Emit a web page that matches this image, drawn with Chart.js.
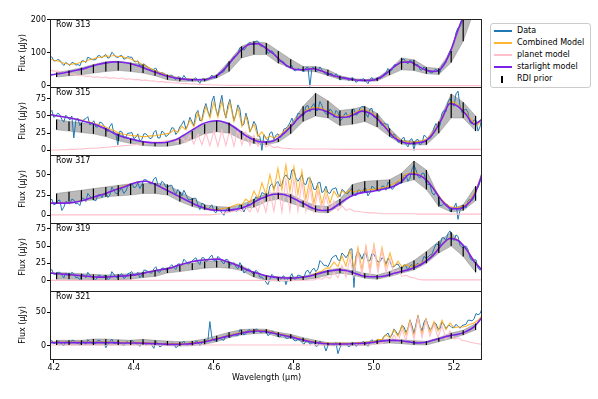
<!DOCTYPE html>
<html><head><meta charset="utf-8">
<script src="https://cdn.jsdelivr.net/npm/chart.js@4.4.0/dist/chart.umd.min.js"></script>
<style>
html,body{margin:0;padding:0;background:#fff;}
body{width:598px;height:399px;position:relative;overflow:hidden;font-family:"DejaVu Sans",sans-serif;}
canvas{position:absolute;left:0;}
.rowlab{position:absolute;left:56px;font-size:8px;line-height:8px;color:#000;white-space:nowrap;}
#legend{position:absolute;left:490px;top:23px;width:99px;height:63px;border:1px solid #cccccc;border-radius:3px;background:rgba(255,255,255,0.85);font-size:8px;color:#000;}
.li{position:absolute;left:0;width:99px;height:10px;}
.lh{position:absolute;left:3px;width:18px;height:2px;top:4px;}
.lt{position:absolute;left:26px;top:0;line-height:10px;white-space:nowrap;}
</style></head><body>
<div id="legend"></div>
<script>
// ---------- x grids ----------
const wave = [4.19,4.20,4.21,4.22,4.23,4.24,4.25,4.26,4.27,4.28,4.29,4.30,4.31,4.32,4.33,4.34,4.35,4.36,4.37,4.38,4.39,4.40,4.41,4.42,4.43,4.44,4.45,4.46,4.47,4.48,4.49,4.50,4.51,4.52,4.53,4.54,4.55,4.56,4.57,4.58,4.59,4.60,4.61,4.62,4.63,4.64,4.65,4.66,4.67,4.68,4.69,4.70,4.71,4.72,4.73,4.74,4.75,4.76,4.77,4.78,4.79,4.80,4.81,4.82,4.83,4.84,4.85,4.86,4.87,4.88,4.89,4.90,4.91,4.92,4.93,4.94,4.95,4.96,4.97,4.98,4.99,5.00,5.01,5.02,5.03,5.04,5.05,5.06,5.07,5.08,5.09,5.10,5.11,5.12,5.13,5.14,5.15,5.16,5.17,5.18,5.19,5.20,5.21,5.22,5.23,5.24,5.25,5.26,5.27];
const midWave = [4.195,4.205,4.215,4.225,4.235,4.245,4.255,4.265,4.275,4.285,4.295,4.305,4.315,4.325,4.335,4.345,4.355,4.365,4.375,4.385,4.395,4.405,4.415,4.425,4.435,4.445,4.455,4.465,4.475,4.485,4.495,4.505,4.515,4.525,4.535,4.545,4.555,4.565,4.575,4.585,4.595,4.605,4.615,4.625,4.635,4.645,4.655,4.665,4.675,4.685,4.695,4.705,4.715,4.725,4.735,4.745,4.755,4.765,4.775,4.785,4.795,4.805,4.815,4.825,4.835,4.845,4.855,4.865,4.875,4.885,4.895,4.905,4.915,4.925,4.935,4.945,4.955,4.965,4.975,4.985,4.995,5.005,5.015,5.025,5.035,5.045,5.055,5.065,5.075,5.085,5.095,5.105,5.115,5.125,5.135,5.145,5.155,5.165,5.175,5.185,5.195,5.205,5.215,5.225,5.235,5.245,5.255,5.265];
const starWave = [4.19,4.21,4.23,4.25,4.27,4.29,4.31,4.33,4.35,4.37,4.39,4.41,4.43,4.45,4.47,4.49,4.51,4.53,4.55,4.57,4.59,4.61,4.63,4.65,4.67,4.69,4.71,4.73,4.75,4.77,4.79,4.81,4.83,4.85,4.87,4.89,4.91,4.93,4.95,4.97,4.99,5.01,5.03,5.05,5.07,5.09,5.11,5.13,5.15,5.17,5.19,5.21,5.23,5.25,5.27];
const rdiWave = [4.207,4.238,4.269,4.299,4.330,4.361,4.392,4.423,4.453,4.484,4.515,4.546,4.577,4.607,4.638,4.669,4.700,4.731,4.761,4.792,4.823,4.854,4.885,4.915,4.946,4.977,5.008,5.039,5.069,5.100,5.131,5.162,5.193,5.223,5.254];
const xTicks = [4.2,4.4,4.6,4.8,5.0,5.2];

// ---------- Row 313 ----------
const yTicks313 = [0,100,200];
const data313 = [84,75,79,68,70,61,69,64,75,70, 83,78,90,84,94,86,95,85,91,82, 86,74,75,62,61,50,50,40,39,31, 31,24,27,20,22,17,20,15,20,17, 24,23,36,40,58,67,88,95,115,115, 131,124,134,118,116,100,98,80,75,58, 58,46,52,45,54,-2,55,45,47,35, 37,28,30,21,25,17,21,14,19,13, 19,15,25,26,40,44,62,63,78,71, 77,62,63,47,50,41,46,42,60,70, 105,130,175,195,235,255,295,315,355];
const dataMid313 = [87,75,77,61,66,70,62,60,75,86, 79,79,91,90,83,101,87,90,80,88, 86,72,60,66,56,46,53,34,37,30, 32,18,25,31,16,18,24,7,22,18, 32,24,40,42,68,78,88,115,107,127, 126,135,121,118,98,106,91,72,71,57, 61,45,49,42,56,54,43,57,39,31, 36,36,17,24,17,25,10,19,21,6, 25,19,21,36,52,47,64,68,81,66, 74,64,48,57,44,38,50,41,68,92, 115,160,178,216,250,271,314,329];
const comb313 = [80,77,75,70,67,64,66,68,72,74, 79,81,86,86,90,89,91,88,88,84, 82,76,72,65,60,52,48,41,38,32, 30,25,24,21,21,19,19,18,19,20, 22,26,32,42,55,70,84,98,110,119, 125,128,127,121,113,104,95,84,72,62, 55,50,48,48,49,51,51,48,44,38, 34,30,27,24,22,20,18,17,16,16, 16,17,21,28,36,46,57,65,71,74, 72,66,59,51,47,44,43,45,55,74, 100,135,168,200,230,260,290,320,350];
const planet313 = [48,44,44,39,39,35,35,31,32,28, 29,25,27,24,26,22,24,21,23,19, 21,18,19,16,17,14,15,12,13,10, 11,8,9,6,7,5,6,4,4,3, 3,2,2,1.5,1.5,1,1,1,1,1, 1,0.5,1,0.5,0.8,0.5,0.7,0.4,0.6,0.5, 0.6,0.4,0.5,0.5,0.6,0.4,0.5,0.5,0.4,0.5, 0.4,0.4,0.5,0.3,0.4,0.4,0.3,0.4,0.3,0.3, 0.3,0.3,0.3,0.3,0.3,0.3,0.3,0.3,0.3,0.3, 0.3,0.3,0.3,0.3,0.3,0.3,0.3,0.3,0.3,0.3, 0.3,0.3,0.3,0.3,0.3,0.3,0.3,0.3,0.3];
const star313 = [32,36,40,45,50,57,64,69,72,71,67,60,51,42,34,27,22,19,18,18,22,32,55,84,110,125,127,113,95,72,55,48,49,51,44,34,27,22,18,16,16,21,36,57,71,72,59,47,43,55,100,168,230,290,350];
const rdiLo313 = [26,30,33,38,43,46,43,38,30,18,13,13,13,23,43,84,94,94,68,54,44,42,30,19,15,13,14,32,48,46,36,34,70,134,240];
const rdiHi313 = [40,46,54,64,72,74,69,64,46,33,23,20,20,33,74,119,134,129,105,80,58,58,48,30,22,18,24,48,84,78,56,52,105,200,300];

// ---------- Row 315 ----------
const yTicks315 = [0,25,50,75];
const data315 = [55,48,54,45,51,44,18,47,40,46, 37,43,34,40,30,35,25,8,27,19, 25,17,24,16,24,17,26,18,28,20, 26,32,27,38,31,48,36,58,44,68, 49,79,50,80,47,74,43,66,36,54, 27,42,22,0,18,25,16,24,22,32, 40,38,54,50,64,56,68,58,65,53, 60,48,55,45,55,48,60,53,64,53, 60,48,51,36,38,22,24,12,17,9, 15,0,16,10,20,17,33,34,54,56, 75,64,86,55,60,40,44,28,50];
const dataMid315 = [58,50,52,41,48,50,43,36,45,49, 39,34,41,36,27,39,23,28,18,25, 26,19,13,24,21,18,29,18,26,22, 33,23,34,43,37,42,53,43,59,57, 71,60,67,58,65,59,52,60,38,44, 33,37,20,23,14,27,22,18,31,35, 47,43,53,51,65,64,58,71,57,52, 57,58,43,51,49,59,51,61,63,48, 61,49,40,40,38,18,20,12,19,5, 17,15,8,22,17,21,39,36,58,70, 68,82,65,58,55,39,44,34];
const comb315 = [52,51,50,49,48,47,46,45,44,42, 41,39,38,36,34,31,29,26,24,23, 22,21,21,20,20,21,21,22,23,24, 25,30,26,35,30,44,34,55,42,64, 47,70,48,71,48,70,42,62,35,50, 27,38,20,27,17,21,18,21,25,30, 35,41,48,53,58,61,62,62,61,58, 56,53,50,49,50,52,54,57,59,58, 56,52,47,41,34,27,21,17,14,13, 12,12,13,14,16,21,28,38,48,60, 70,70,66,60,54,47,40,37,47];
const planet315 = [0,0.5,0.5,1,1,1.5,1.5,2,2,2.5, 3,3,3.5,4,4.5,5,5.5,6,6.5,7, 7.5,8,9,9,10,11,12,12,13,14, 14,16,12,19,11,22,9,24,8,26, 7,28,6,29,7,30,6,30,8,27, 7,22,6,14,5,8,4,5,3,3, 2.5,2,2,2,2,2,2,2,2,2, 2,1.5,2,1.5,1.5,1.5,1.5,1.5,1.5,1.5, 1.5,1.5,1.5,1.5,1.5,1.5,1.5,1.5,1.5,1.5, 1.5,1.5,1.5,1.5,1.5,1.5,1.5,1.5,1.5,1.5, 1.5,1.5,1.5,1.5,1.5,1.5,1.5,1.5,1.5];
const star315 = [52,50,48,46,43,40,36,31,25,20,17,14,12,11,11,13,17,24,31,38,42,43,40,34,25,18,13,12,14,22,33,46,56,60,59,54,48,48,52,57,54,45,32,19,12,10,11,14,26,46,68,64,52,38,45];
const rdiLo315 = [30,28,26,24,20,14,10,7,6,6,9,16,24,27,25,16,10,8,12,24,42,50,47,36,38,42,34,20,9,8,8,25,47,47,28];
const rdiHi315 = [45,42,40,38,32,24,17,13,11,12,17,28,38,43,40,28,18,13,17,38,64,83,72,58,60,64,54,32,15,13,15,42,82,70,50];

// ---------- Row 317 ----------
const yTicks317 = [0,25,50];
const data317 = [17,13,18,6,17,14,19,15,21,17, 24,19,25,22,28,25,31,27,33,30, 37,34,40,38,44,39,45,38,42,35, 37,30,32,24,26,19,21,13,15,8, 10,5,8,3,7,4,8,6,9,10, 13,18,20,28,25,36,33,42,38,50, 44,56,42,50,38,46,32,40,28,36, 27,33,26,32,27,31,26,31,27,33, 28,34,30,36,31,38,34,42,40,50, 46,62,48,52,40,38,25,24,12,14, 5,10,-5,12,9,20,22,34,55];
const dataMid317 = [20,14,19,10,16,20,14,12,21,27, 21,18,26,26,22,35,27,31,27,36, 40,35,33,44,42,39,47,36,40,35, 37,26,29,31,20,20,21,7,14,7, 13,3,7,0,9,6,5,14,4,14, 14,23,21,27,24,39,39,36,47,46, 56,46,46,39,46,40,32,41,30,28, 32,34,23,30,27,33,24,31,33,24, 36,32,30,36,41,32,39,39,49,42, 57,56,46,52,38,28,29,12,15,13, 6,15,6,11,18,18,34,41];
const comb317 = [15,15,15,15,15,15,16,17,18,19, 21,22,24,26,27,29,31,33,35,37, 38,40,41,42,42,41,39,37,34,32, 29,27,24,22,19,17,14,12,10,9, 8,7,7,8,9,10,12,14,13,20, 16,30,21,40,26,50,30,58,31,62, 30,60,26,55,20,46,15,38,14,32, 15,30,22,30,27,31,29,30,31,31, 32,32,33,34,35,37,39,42,46,51, 52,53,51,48,45,39,33,26,19,14, 11,9.5,9.5,11,13.5,19,27,38,51];
const planet317 = [0.5,0.5,0.5,0.5,0.5,0.5,0.5,0.5,0.5,0.5, 0.5,0.5,0.5,0.5,0.5,0.5,0.5,0.5,0.5,0.5, 0.5,0.5,0.5,0.5,0.5,0.5,0.5,0.5,0.5,0.5, 0.5,0.5,0.5,0.5,0.5,0.5,0.5,0.5,0.5,0.5, 0.5,1,1.5,2,3,4,5,7,5,10, 4,15,4,22,4,30,5,38,4,44, 5,45,5,42,5,36,4,30,5,24, 5,18,6,12,6,8,5,5,4,3.5, 3,3,2.5,2,2,2,2,2,2,2, 2,2,1.5,1.5,1.5,1.5,1.5,1.5,1.5,1.5, 1.5,1.5,1.5,1.5,1.5,1.5,1.5,1.5,1.5];
const star317 = [15,15,15,16,18,21,24,27,31,34,38,41,42,39,34,29,24,19,14,10,7,6,6,7,9,13,19,23,26,26,23,18,13,8,6,7,13,20,25,28,29,31,33,36,42,51,50,44,32,18,9,8,12,24,50];
const rdiLo317 = [15,17,18,19,23,24,25,27,27,25,17,11,7,6,5,8,10,17,20,15,10,4,3,12,25,29,31,34,40,44,32,11,4,6,18];
const rdiHi317 = [27,29,31,33,35,37,39,39,40,38,29,21,13,11,10,13,20,27,28,26,18,12,11,20,38,42,43,44,52,67,56,23,8,13,36];

// ---------- Row 319 ----------
const yTicks319 = [0,25,50,75];
const data319 = [13,9,12,8,11,7,10,5,9,4, 8,3,7,4,8,3,9,4,10,5, 11,7,12,8,15,11,17,13,18,15, 20,19,24,22,28,25,31,27,33,28, 34,29,35,27,31,22,26,17,21,13, 16,9,12,5,-2,2,6,1,5,-6, 5,2,8,6,13,10,18,17,26,22, 26,35,30,40,33,45,-10,42,31,40, 29,38,27,33,24,28,20,24,17,21, 21,19,25,26,33,37,46,52,62,58, 72,58,64,48,50,33,30,18,20];
const dataMid319 = [16,9,12,4,9,12,4,1,8,12, 5,1,8,7,1,13,5,8,3,10, 13,8,4,15,13,11,20,12,18,17, 23,16,24,31,24,28,33,23,33,29, 37,28,32,24,30,24,20,26,11,17, 11,15,5,2,-6,9,5,-1,7,3, 10,2,7,4,15,15,13,29,22,20, 33,37,29,37,37,46,35,38,39,28, 39,32,27,31,32,20,23,19,23,15, 23,23,21,35,34,38,53,51,62,68, 63,66,51,49,45,29,30,15];
const comb319 = [11,10.5,10,9.5,9,8.5,8,7.5,7,6.5, 6,5.5,5,5,5,5.5,6,6,6.5,7, 7.5,8,9,10,11.5,13,14,15,16,17, 18,20,22,23.5,25,26.5,28,29,29.5,30, 30.5,31,31,29.5,28,26,24,21.5,19,16.5, 14,12,10.5,8.5,7,6,5,4.5,4,3.7, 3.5,3.7,4,4.7,5.5,6.7,9,12,14,18, 18,27,20,36,21,44,18,48,16,50, 16,52,18,48,20,40,20,28,20,23, 20,22,23,26,29,34,39,46,53,58, 62,61,59,53,47,38,29,22,16];
const planet319 = [0.3,0.3,0.3,0.3,0.3,0.3,0.3,0.3,0.3,0.3, 0.3,0.3,0.3,0.3,0.3,0.3,0.3,0.3,0.3,0.3, 0.3,0.3,0.3,0.3,0.3,0.3,0.3,0.3,0.3,0.3, 0.3,0.3,0.3,0.3,0.3,0.3,0.3,0.3,0.3,0.3, 0.3,0.3,0.3,0.3,0.3,0.3,0.3,0.3,0.3,0.3, 0.3,0.3,0.3,0.3,0.3,0.3,0.3,0.3,0.3,0.3, 0.3,0.3,0.5,0.5,0.5,0.8,1,3,2,6, 3,12,4,22,5,32,6,42,8,48, 10,50,12,44,12,32,9,15,6,8, 5,4,2,1,1,1,1,1,1,1, 1,1,1,1,1,1,1,1,1];
const star319 = [11,10,9,8,7,6,5,5,6,6.5,7.5,9,11.5,14,16,18,22,25,28,29.5,30.5,31,28,24,19,14,10.5,7,5,4,3.5,4,5.5,8,11.5,14,15.5,14.5,11,7,5.5,5.5,7,10.5,13.5,16.5,21,28,38,52,61,58,46,28,15];
const rdiLo319 = [2,2,1.5,1,0,1,2,4.4,6,11,13,15.5,18,19,18,14.5,5,0,-0.5,-0.5,1,3.5,8,10.7,8.3,3.5,2,6,10.7,15.5,25,40,50,35,12];
const rdiHi319 = [11.6,11,10,9,8,9,10,12,15,18.4,22,25,27.6,28.6,27,22,12,7,5,5,6,10.7,15.5,18,14.5,10.7,8,13,20,29,42,57,70,49,27];

// ---------- Row 321 ----------
const yTicks321 = [0,50];
const data321 = [5,3,7,2,6,3,8,4,7,2, 6,3,8,4,-3,6,3,7,2,5, 3,6,2,5,1,4,-4,3,0,4, 1,3,-1,4,1,5,2,6,4,8, 36,8,12,9,15,12,18,15,22,18, 24,19,24,20,22,17,20,14,17,11, 13,8,10,5,7,2,5,0,4,-8, 3,0,-12,2,3,-1,4,1,5,2, 6,4,10,8,16,12,25,16,30,20, 38,18,45,22,40,24,34,25,35,25, 30,27,29,30,32,38,40,46,55];
const dataMid321 = [8,4,6,0,5,8,4,1,6,9, 4,3,8,5,2,10,4,5,0,6, 8,3,-1,5,3,1,7,-2,3,2, 4,-3,2,7,1,3,7,0,8,7, 12,7,11,8,16,15,15,24,16,23, 21,25,20,22,15,22,18,13,16,11, 15,7,8,2,7,4,-1,7,2,0, 3,5,-3,3,-1,5,-1,4,6,-1, 9,7,7,14,19,16,21,22,28,25, 30,32,30,35,31,26,33,25,32,30, 27,32,26,31,38,37,48,48];
const comb321 = [5.5,5.5,5.5,5.5,5.5,5.5,5.5,5.5,5.5,5.5, 5.5,5.5,5.5,5.5,5.5,5.5,5.5,5.2,5,5, 5,5,5,4.7,4.5,4,3.8,3.5,3.2,3, 3,3,3,3.2,3.5,4,4.5,5.2,6,7, 8.5,10,11.5,13,14.5,16,17.5,19,20,21, 22,22.5,23,22.5,22,21,19.5,18.2,17,15.7, 14.5,13,11.5,10,8.5,7,6,5,4.5,4, 3.5,3.5,3.5,3.5,3.5,3.7,4,4.2,4.5,5, 5.5,6,9,9,16,12,24,14,30,16, 38,15,44,17,40,20,36,22,38,24, 34,27,28,28,29,32,34,38,45];
const planet321 = [1,1,1,1,1,1,1,1,1,1, 1,1,1,1,1,1,1,1,1,1, 1,1,1,1,1,1,1,1,1,1, 1,1,1,1,1,1,1,1,1,1, 1,1,1,1,1,1,1,1,1,1, 1,1,1,1,1,1,1,1,1,1, 1,1,1,1,1,1,1,1,1,1, 1,1,1,1,1,1,1,1,1,1, 1,2,5,3,10,4,16,6,24,8, 35,10,42,12,38,14,32,12,30,10, 22,10,12,8,7,5,4,3,2];
const star321 = [4.5,4.5,4.5,4.5,4.5,4.5,4.5,4.5,4.5,4,4,4,3.5,3,2.5,2,2,2.5,3.5,5,7.5,10.5,13.5,16,19,21,22,21,18.5,16,13.5,10.5,7.5,5,3.5,2.5,2.5,2.5,3,3.5,4.5,6,7.5,8,7,5.5,4,5,8.5,12,15,17,21,28,42];
const rdiLo321 = [1,1,1,1,1,1,1,1.5,1,0,-0.5,0,2,6,12,16,18,18.5,13,10.6,6,2.5,0,0,0,0.5,2.5,4,3,1.5,1,6,10.6,16,23.5];
const rdiHi321 = [8,8,8,10,10,9,8,9.6,8,7,6,7,10,15,20,24,25,24.5,20,17,12,8,4.5,4.5,4.5,5.5,8,10,9,7.5,6.6,12,19,23,33];

// ---------- styling / layout ----------
const C_DATA = '#1f77b4';
const C_COMB = 'rgba(255,165,0,0.8)';
const C_PLAN = '#ffc0cb';
const C_STAR = '#7b22ea';
const FONT = {family:'DejaVu Sans', size:8};
Chart.defaults.font.family = 'DejaVu Sans';
Chart.defaults.font.size = 8;
Chart.defaults.color = '#000';

const panels = [
  {row:'Row 313', d:data313, dm:dataMid313, c:comb313, p:planet313, s:star313, lo:rdiLo313, hi:rdiHi313, yt:yTicks313, min:-4,   max:201.5},
  {row:'Row 315', d:data315, dm:dataMid315, c:comb315, p:planet315, s:star315, lo:rdiLo315, hi:rdiHi315, yt:yTicks315, min:-6.7, max:92},
  {row:'Row 317', d:data317, dm:dataMid317, c:comb317, p:planet317, s:star317, lo:rdiLo317, hi:rdiHi317, yt:yTicks317, min:-9.5, max:74.5},
  {row:'Row 319', d:data319, dm:dataMid319, c:comb319, p:planet319, s:star319, lo:rdiLo319, hi:rdiHi319, yt:yTicks319, min:-15.1,max:83.4},
  {row:'Row 321', d:data321, dm:dataMid321, c:comb321, p:planet321, s:star321, lo:rdiLo321, hi:rdiHi321, yt:yTicks321, min:-19.9,max:81.7}
];
const panelTops = [19,87,155,223,291];
const PH = 68;

const frame = {id:'frame', afterDraw(chart){
  const {ctx, chartArea:a} = chart;
  ctx.save(); ctx.strokeStyle='#222'; ctx.lineWidth=1;
  const L = Math.round(a.left), T = Math.round(a.top), R = Math.round(a.right), B = Math.round(a.bottom);
  ctx.strokeRect(L-0.5, T+0.5, R-L, B-T);
  ctx.restore();
}};

const pts = (xs, ys) => xs.map((x,i)=>({x:x, y:ys[i]}));
// merge readings taken on the two interleaved wavelength grids, ordered by wavelength
const fine = (ys, ms) => { const out=[]; wave.forEach((x,i)=>{ out.push({x:x,y:ys[i]}); if(i<midWave.length) out.push({x:midWave[i], y:ms[i]}); }); return out; };

panels.forEach((pn, idx) => {
  const last = idx === panels.length-1;
  const top = panelTops[idx]-10;
  const h = last ? 399-top : PH+20;
  const cv = document.createElement('canvas');
  cv.width = 598; cv.height = h;
  cv.style.top = top+'px'; cv.style.width='598px'; cv.style.height=h+'px';
  document.body.appendChild(cv);

  const lab = document.createElement('div');
  lab.className='rowlab'; lab.textContent = pn.row;
  lab.style.top = (panelTops[idx]+2)+'px';
  document.body.appendChild(lab);

  new Chart(cv, {
    type:'line',
    data:{datasets:[
      {type:'bar', label:'RDI prior', data: rdiWave.map((x,i)=>({x:x, y:[pn.lo[i], pn.hi[i]]})), backgroundColor:'#000', borderWidth:0, barThickness:1.2, inflateAmount:0, order:0},
      {label:'starlight model', data: pts(starWave, pn.s), borderColor:C_STAR, borderWidth:1.6, pointRadius:0, cubicInterpolationMode:'monotone', fill:false, order:1},
      {label:'planet model', data: pts(wave, pn.p), borderColor:C_PLAN, borderWidth:1.1, pointRadius:0, tension:0, fill:false, order:2},
      {label:'Combined Model', data: pts(wave, pn.c), borderColor:C_COMB, borderWidth:1.1, pointRadius:0, tension:0, fill:false, order:3},
      {label:'Data', data: fine(pn.d, pn.dm), borderColor:C_DATA, borderWidth:1, pointRadius:0, tension:0, fill:false, order:4},
      {label:'band hi', data: pts(rdiWave, pn.hi), borderColor:'rgba(100,100,100,0.6)', borderWidth:0.6, backgroundColor:'rgba(140,140,140,0.6)', pointRadius:0, tension:0, fill:'+1', order:5},
      {label:'band lo', data: pts(rdiWave, pn.lo), borderColor:'rgba(100,100,100,0.6)', borderWidth:0.6, pointRadius:0, tension:0, fill:false, order:6}
    ]},
    options:{
      animation:false, responsive:false, devicePixelRatio:1, events:[],
      layout:{padding:{left:13, right:116, top:10, bottom: last ? 12 : 10}},
      plugins:{legend:{display:false}, tooltip:{enabled:false}},
      scales:{
        x:{type:'linear', min:4.193, max:5.27, offset:false, display:last,
           grid:{display:true, offset:false, drawOnChartArea:false, drawTicks:true, tickLength:4, color:'#000', lineWidth:1},
           border:{display:false},
           ticks:{font:FONT, color:'#000', padding:0, maxRotation:0, autoSkip:false, callback:v=>Number(v).toFixed(1)},
           afterBuildTicks:s=>{s.ticks = xTicks.map(v=>({value:v}));},
           afterFit:s=>{ if(last){ s.height = 28; } else { s.height = 0; } },
           title:{display:last, text:'Wavelength (μm)', font:FONT, color:'#000', padding:{top:0,bottom:4}}},
        y:{type:'linear', min:pn.min, max:pn.max,
           grid:{display:true, drawOnChartArea:false, drawTicks:true, tickLength:4, color:'#000', lineWidth:1},
           border:{display:false},
           ticks:{font:FONT, color:'#000', padding:1, autoSkip:false, callback:v=>String(v)},
           afterBuildTicks:(s)=>{s.ticks = pn.yt.map(v=>({value:v}));},
           afterFit:s=>{s.width = 38;},
           title:{display:true, text:'Flux (μJy)', font:FONT, color:'#000', padding:{top:5,bottom:0}}}
      }
    },
    plugins:[frame]
  });
});

// ---------- legend ----------
const legendItems = [
  {label:'Data', color:C_DATA, kind:'line'},
  {label:'Combined Model', color:C_COMB, kind:'line'},
  {label:'planet model', color:C_PLAN, kind:'line'},
  {label:'starlight model', color:C_STAR, kind:'line'},
  {label:'RDI prior', color:'#000', kind:'bar'}
];
const lg = document.getElementById('legend');
legendItems.forEach((it,i)=>{
  const row = document.createElement('div'); row.className='li';
  row.style.top = (2 + 12.1*i)+'px';
  const hnd = document.createElement('div'); hnd.className='lh';
  if(it.kind==='line'){ hnd.style.background = it.color; }
  else { hnd.style.left='10px'; hnd.style.width='1.6px'; hnd.style.height='7px'; hnd.style.top='1.5px'; hnd.style.background='#000'; }
  const t = document.createElement('div'); t.className='lt'; t.textContent = it.label;
  row.appendChild(hnd); row.appendChild(t); lg.appendChild(row);
});
</script>
</body></html>
